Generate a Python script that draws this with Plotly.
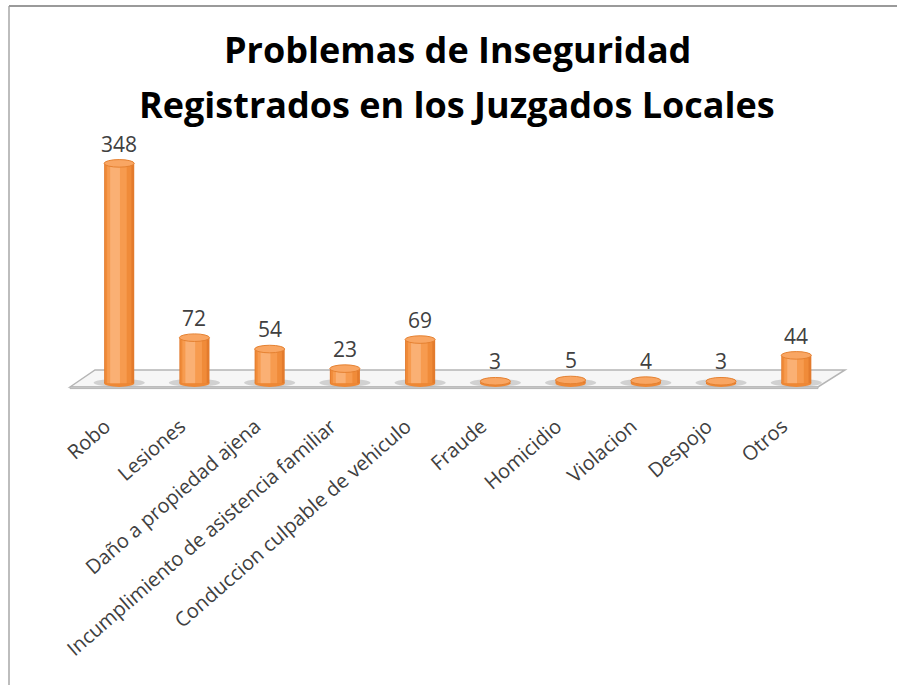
import plotly.graph_objects as go

categories = ["Robo", "Lesiones", "Daño a propiedad ajena",
              "Incumplimiento de asistencia familiar",
              "Conduccion culpable de vehiculo", "Fraude", "Homicidio",
              "Violacion", "Despojo", "Otros"]
values = [348, 72, 54, 23, 69, 3, 5, 4, 3, 44]
title_lines = ["Problemas de Inseguridad", "Registrados en los Juzgados Locales"]

BAR_W = 0.40
ELL = 6.0  # half-height of cylinder ellipse in data units
xs = list(range(len(categories)))

fig = go.Figure()

# cylinder body emulated by layered bars of decreasing width (overlay)
layers = [
    (BAR_W, 0.0, "#E37B2D"),
    (0.35, -0.012, "#F08B39"),
    (0.26, -0.03, "#F79B4F"),
    (0.13, -0.055, "#FAB074"),
]
for w, shift, col in layers:
    fig.add_trace(go.Bar(
        x=xs, y=values, width=w, offset=-BAR_W / 2 + (BAR_W - w) / 2 + shift,
        marker=dict(color=col, line=dict(width=0)),
        hoverinfo="skip", showlegend=False,
    ))

# plot-area pixel geometry
px_l, px_r, px_t, px_b = 59, 864, 140, 392
X0, X1 = -0.8, 9.9
Y0, Y1 = -14, 385
def fx(p):
    return (p - px_l) / (px_r - px_l)
def fy(p):
    return (px_b - p) / (px_b - px_t)
def dx(p):
    return X0 + fx(p) * (X1 - X0)
def dy(p):
    return Y0 + fy(p) * (Y1 - Y0)

shapes = []
# floor
xl, xr, xlt, xrt = dx(70), dx(818), dx(95), dx(845)
yt, yb = dy(370), dy(387)
shapes.append(dict(
    type="path", xref="x", yref="y", layer="below",
    path=f"M {xl},{yb} L {xlt},{yt} L {xrt},{yt} L {xr},{yb} Z",
    fillcolor="#F6F6F6", line=dict(color="#B5B5B5", width=1.5),
))
shapes.append(dict(
    type="path", xref="x", yref="y", layer="below",
    path=f"M {xl},{yb} L {xr},{yb} L {xr},{yb-2.5} L {xl},{yb-2.5} Z",
    fillcolor="#D4D4D4", line=dict(color="#B5B5B5", width=1),
))
# shadows + bottom ellipses
for x, v in zip(xs, values):
    shapes.append(dict(type="circle", xref="x", yref="y", layer="below",
                       x0=x - 0.34, x1=x + 0.34, y0=-ELL * 0.9, y1=ELL * 1.1,
                       fillcolor="rgba(140,140,140,0.35)", line=dict(width=0)))
    shapes.append(dict(type="circle", xref="x", yref="y", layer="below",
                       x0=x - BAR_W / 2, x1=x + BAR_W / 2, y0=-ELL, y1=ELL,
                       fillcolor="#EE8835", line=dict(width=0)))
# top ellipses
for x, v in zip(xs, values):
    shapes.append(dict(type="circle", xref="x", yref="y", layer="above",
                       x0=x - BAR_W / 2, x1=x + BAR_W / 2, y0=v - ELL, y1=v + ELL,
                       fillcolor="#F9A663", line=dict(color="#E58131", width=1)))

# chart border
shapes.append(dict(type="line", xref="paper", yref="paper",
                   x0=fx(9), x1=fx(9), y0=fy(700), y1=fy(6),
                   line=dict(color="#BDBDBD", width=2)))
shapes.append(dict(type="line", xref="paper", yref="paper",
                   x0=fx(9), x1=fx(900), y0=fy(6), y1=fy(6),
                   line=dict(color="#9A9A9A", width=2)))

annotations = []
for x, v in zip(xs, values):
    annotations.append(dict(x=x, y=v + ELL, xref="x", yref="y", text=str(v),
                            showarrow=False, yanchor="bottom", yshift=0,
                            font=dict(family="Open Sans", size=21, color="#404040")))
for line, py in zip(title_lines, [50, 104]):
    annotations.append(dict(x=fx(457), y=fy(py), xref="paper", yref="paper",
                            text=f"<b>{line}</b>", showarrow=False,
                            xanchor="center", yanchor="middle",
                            font=dict(family="Open Sans", size=36, color="#000000")))

fig.update_layout(
    width=897, height=685,
    margin=dict(l=px_l, r=897 - px_r, t=px_t, b=685 - px_b, autoexpand=False),
    paper_bgcolor="white", plot_bgcolor="white",
    barmode="overlay", showlegend=False,
    shapes=shapes, annotations=annotations,
    xaxis=dict(range=[X0, X1], tickmode="array", tickvals=xs, ticktext=categories,
               tickangle=-41, showgrid=False, zeroline=False, showline=False,
               ticks="", ticklabelstandoff=18, ticklabelshift=-14, automargin=False,
               tickfont=dict(family="Open Sans", size=20, color="#404040")),
    yaxis=dict(range=[Y0, Y1], visible=False, automargin=False),
)

fig.write_html("out.html", config={"displayModeBar": False},
               post_script="document.body.style.margin='0';")
